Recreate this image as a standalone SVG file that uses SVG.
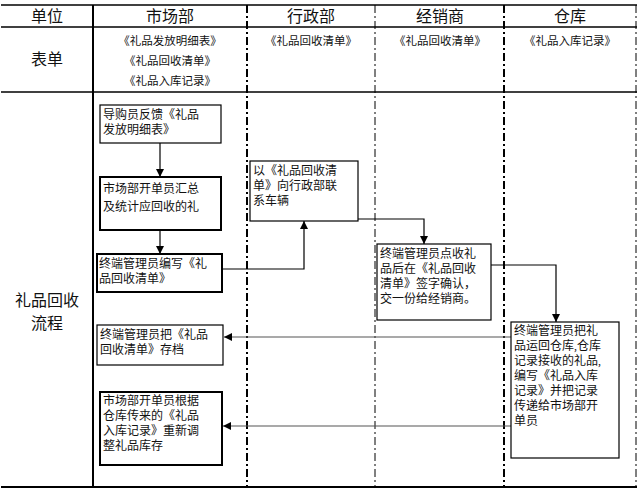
<svg xmlns="http://www.w3.org/2000/svg" width="639" height="489" viewBox="0 0 639 489">
<defs>
<marker id="ah" viewBox="0 0 10 10" refX="10" refY="5" markerWidth="8" markerHeight="8" markerUnits="userSpaceOnUse" orient="auto"><path d="M0,0L10,5L0,10z" fill="#000"/></marker>
</defs>
<style>
text{font-family:"Liberation Serif","Noto Sans CJK SC",serif;fill:#111}
.h{font-size:16px;text-anchor:middle}
.f{font-size:11.5px;text-anchor:middle}
.t{font-size:12px}
.box{fill:#fff;stroke:#000;stroke-width:1.2}
.bold{stroke-width:2}
.c{fill:none;stroke:#000;stroke-width:1.2}
.g{stroke:#555}
</style>
<rect width="639" height="489" fill="#fff"/>
<g id="table" stroke="#000">
<line x1="1" y1="5" x2="637" y2="5" stroke-width="1.5"/>
<line x1="1" y1="27" x2="637" y2="27" stroke-width="1.5"/>
<line x1="1" y1="92" x2="637" y2="92" stroke-width="1.5"/>
<line x1="1" y1="487" x2="637" y2="487" stroke-width="2"/>
<line x1="93" y1="5" x2="93" y2="487" stroke-width="2"/>
<line x1="247" y1="5" x2="247" y2="487" stroke-width="2" stroke-dasharray="8,3,2,3"/>
<line x1="375" y1="5" x2="375" y2="487" stroke-width="1" stroke-dasharray="8,3,2,3"/>
<line x1="504" y1="5" x2="504" y2="487" stroke-width="2" stroke-dasharray="8,3,2,3"/>
<line x1="636" y1="5" x2="636" y2="487" stroke-width="1" stroke-dasharray="8,3,2,3"/>
</g>
<g id="headers">
<text class="h" x="47" y="22">单位</text>
<text class="h" x="170" y="22">市场部</text>
<text class="h" x="311" y="22">行政部</text>
<text class="h" x="440" y="22">经销商</text>
<text class="h" x="570" y="22">仓库</text>
<text class="h" x="47" y="65" font-size="17">表单</text>
<text class="f" x="170" y="45">《礼品发放明细表》</text>
<text class="f" x="170" y="65">《礼品回收清单》</text>
<text class="f" x="170" y="85">《礼品入库记录》</text>
<text class="f" x="311" y="45">《礼品回收清单》</text>
<text class="f" x="440" y="45">《礼品回收清单》</text>
<text class="f" x="570" y="45">《礼品入库记录》</text>
<text class="h" x="47" y="306" font-size="17">礼品回收</text>
<text class="h" x="47" y="329" font-size="17">流程</text>
</g>
<g id="connectors">
<line class="c" x1="160" y1="143" x2="160" y2="177" marker-end="url(#ah)"/>
<line class="c" x1="160" y1="230" x2="160" y2="254" marker-end="url(#ah)"/>
<polyline class="c" points="222,269 304,269 304,221" marker-end="url(#ah)"/>
<polyline class="c" points="358,219 424,219 424,244" marker-end="url(#ah)"/>
<polyline class="c" points="491,265 556,265 556,322" marker-end="url(#ah)"/>
<line class="c g" x1="511" y1="337" x2="224" y2="337" marker-end="url(#ah)"/>
<line class="c g" x1="511" y1="426" x2="223" y2="426" marker-end="url(#ah)"/>
</g>
<g id="n1"><rect class="box" x="100" y="105" width="121" height="38"/>
<text class="t" x="103" y="119">导购员反馈《礼品</text><text class="t" x="103" y="134">发放明细表》</text></g>
<g id="n2"><rect class="box bold" x="100" y="177" width="121" height="53"/>
<text class="t" x="103" y="193">市场部开单员汇总</text><text class="t" x="103" y="211">及统计应回收的礼</text></g>
<g id="n3"><rect class="box bold" x="97" y="254" width="125" height="38"/>
<text class="t" x="99" y="268">终端管理员编写《礼</text><text class="t" x="99" y="283">品回收清单》</text></g>
<g id="n4"><rect class="box" x="250" y="161" width="108" height="60"/>
<text class="t" x="253" y="175">以《礼品回收清</text><text class="t" x="253" y="190">单》向行政部联</text><text class="t" x="253" y="205">系车辆</text></g>
<g id="n5"><rect class="box" x="377" y="244" width="114" height="76"/>
<text class="t" x="380" y="258">终端管理员点收礼</text><text class="t" x="380" y="273">品后在《礼品回收</text><text class="t" x="380" y="288">清单》签字确认，</text><text class="t" x="380" y="303">交一份给经销商。</text></g>
<g id="n6"><rect class="box" x="97" y="325" width="126" height="40"/>
<text class="t" x="100" y="339">终端管理员把《礼品</text><text class="t" x="100" y="354">回收清单》存档</text></g>
<g id="n7"><rect class="box bold" x="100" y="392" width="122" height="73"/>
<text class="t" x="103" y="405">市场部开单员根据</text><text class="t" x="103" y="420">仓库传来的《礼品</text><text class="t" x="103" y="435">入库记录》重新调</text><text class="t" x="103" y="450">整礼品库存</text></g>
<g id="n8"><rect class="box" x="511" y="322" width="108" height="136"/>
<text class="t" x="514" y="335">终端管理员把礼</text><text class="t" x="514" y="350">品运回仓库,仓库</text><text class="t" x="514" y="365">记录接收的礼品,</text><text class="t" x="514" y="380">编写《礼品入库</text><text class="t" x="514" y="395">记录》并把记录</text><text class="t" x="514" y="410">传递给市场部开</text><text class="t" x="514" y="425">单员</text></g>
</svg>
